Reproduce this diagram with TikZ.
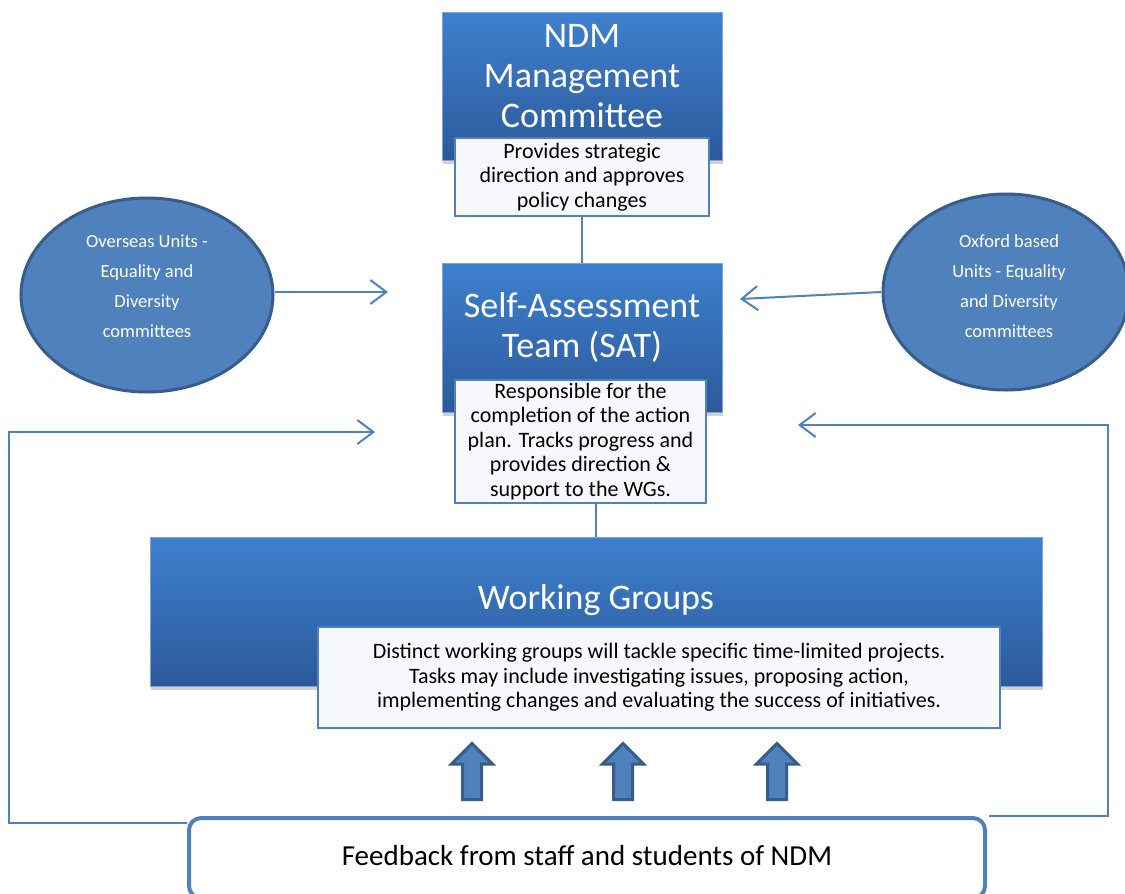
\documentclass[tikz,border=0pt]{standalone}
\usepackage{fontspec}
\setmainfont{Carlito}
\usetikzlibrary{arrows.meta,shapes.geometric,shadows,calc}

\definecolor{boxtop}{RGB}{62,128,206}
\definecolor{boxbot}{RGB}{44,90,155}
\definecolor{accent}{RGB}{79,129,189}
\definecolor{accentdark}{RGB}{56,93,138}
\definecolor{notefill}{RGB}{246,248,252}

\begin{document}
\begin{tikzpicture}
	[x=1pt,y=-1pt,
	 bluebox/.style={rectangle,top color=boxtop,bottom color=boxbot,draw=boxtop!70!white,line width=1pt,
	   drop shadow={shadow xshift=1pt,shadow yshift=-4pt,opacity=.35}},
	 boxtitle/.style={text=white,align=center,inner sep=0pt,font=\fontsize{36}{40}\selectfont},
	 notebox/.style={rectangle,fill=notefill,draw=accent,line width=1.5pt,align=center,inner sep=0pt,
	   font=\fontsize{22}{24.5}\selectfont},
	 unitcircle/.style={ellipse,fill=accent,draw=accentdark,line width=3pt,inner sep=0pt},
	 unittext/.style={text=white,align=center,inner sep=0pt,font=\fontsize{18.5}{30}\selectfont},
	 linkline/.style={draw=accent,line width=1.5pt},
	 feedarrow/.style={draw=accent,line width=2pt,-{Straight Barb[length=16pt,width=24pt]}},
	 fbbox/.style={rectangle,rounded corners=12pt,fill=white,draw=accent,line width=4pt,
	   font=\fontsize{29}{32}\selectfont}]

	\clip (0,0) rectangle (1125,894);
	\fill[white] (0,0) rectangle (1125,894);

	% committee
	\node[bluebox,minimum width=280,minimum height=148] (ndm) at (582,86) {};
	\node[boxtitle] (ndmtitle) at (582,76) {NDM\\Management\\Committee};
	\node[notebox,minimum width=254,minimum height=78] (ndmnote) at (582,177)
		{Provides strategic\\direction and approves\\policy changes};

	% SAT
	\node[bluebox,minimum width=280,minimum height=149] (sat) at (582,337.5) {};
	\node[boxtitle] (sattitle) at (582,327) {Self-Assessment\\Team (SAT)};
	\node[notebox,minimum width=251,minimum height=123] (satnote) at (580.5,441.5)
		{Responsible for the\\completion of the action\\plan. Tracks progress and\\provides direction \&\\support to the WGs.};

	% working groups
	\node[bluebox,minimum width=892,minimum height=149] (wg) at (596,611.5) {};
	\node[boxtitle] (wgtitle) at (596,600) {Working Groups};
	\node[notebox,minimum width=682,minimum height=101] (wgnote) at (659,677.5)
		{Distinct working groups will tackle specific time-limited projects.\\Tasks may include investigating issues, proposing action,\\implementing changes and evaluating the success of initiatives.};

	\draw[linkline] (ndmnote.south) -- (sat.north);
	\draw[linkline] (satnote.south -| wg.north) -- (wg.north);

	% unit committees
	\node[unitcircle,minimum width=252,minimum height=194] (overseas) at (147,295) {};
	\node[unittext] (overseastext) at (147,286) {Overseas Units -\\Equality and\\Diversity\\committees};
	\node[unitcircle,minimum width=246,minimum height=196] (oxford) at (1006,292) {};
	\node[unittext] (oxfordtext) at (1009,286) {Oxford based\\Units - Equality\\and Diversity\\committees};

	\coordinate (ovtip) at (388,292);
	\coordinate (oxtip) at (740,299);
	\draw[feedarrow] (overseas.east |- ovtip) -- (ovtip);
	\draw[feedarrow] (oxford.west) -- (oxtip);

	% feedback loop
	\node[fbbox,minimum width=796,minimum height=80] (feedback) at (587,858)
		{\raisebox{6pt}{Feedback from staff and students of NDM}};

	\coordinate (loopl) at (9,432);
	\coordinate (satinl) at (375,432);
	\coordinate (loopr) at (1108,425);
	\coordinate (satinr) at (798,425);
	\draw[feedarrow] ([yshift=-7pt]feedback.north west) -| (loopl) -- (satinl);
	\draw[feedarrow] ([xshift=2pt]feedback.north east) -| (loopr) -- (satinr);

	\foreach \x in {472,623,777}
	\filldraw[fill=accent,draw=accentdark,line width=3pt] (\x,743.5) -- (\x+20.5,764) -- (\x+9.5,764) -- (\x+9.5,799.5) -- (\x-9.5,799.5) -- (\x-9.5,764) -- (\x-20.5,764) -- cycle;
\end{tikzpicture}
\end{document}
